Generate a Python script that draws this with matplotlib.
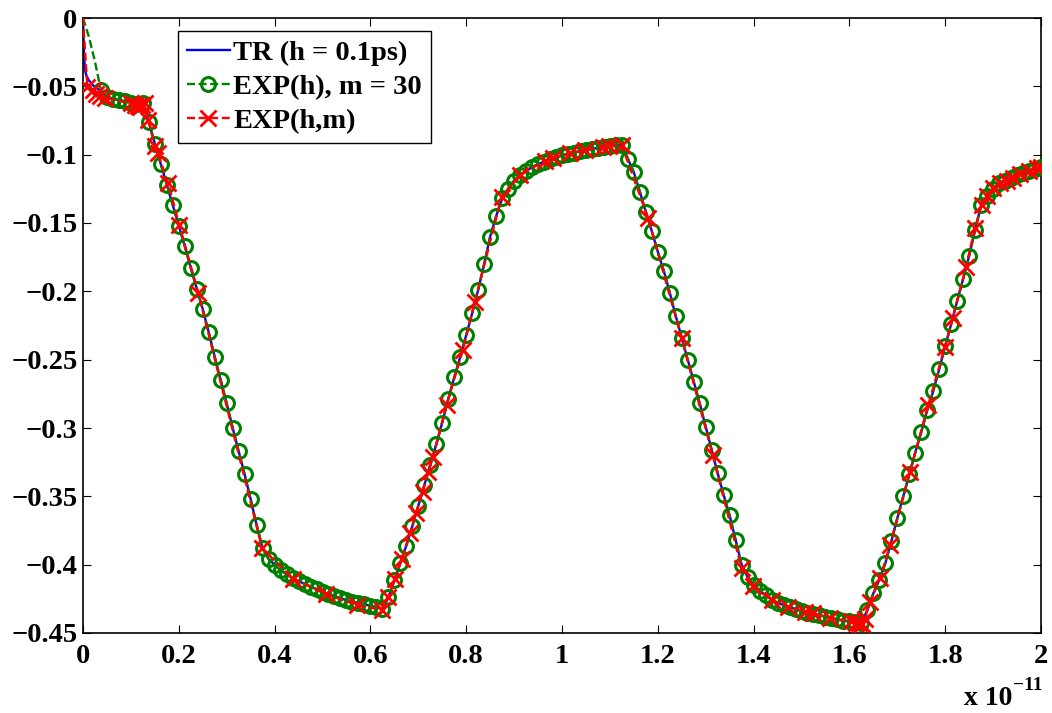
import numpy as np
import matplotlib
matplotlib.use("Agg")
import matplotlib.pyplot as plt
from matplotlib.lines import Line2D

# ---------------- data (time in units of 1e-11 s) ----------------
H_EXP = 0.0125  # marker/grid step of EXP(h) curve (x 1e-11 s)
y_exp = [0.0, -0.014, -0.032, -0.053, -0.0575, -0.059, -0.060, -0.061, -0.062, -0.063,
         -0.062, -0.076, -0.092, -0.107, -0.122, -0.137, -0.152, -0.167, -0.183, -0.198,
         -0.213, -0.230, -0.248, -0.265, -0.282, -0.300, -0.317, -0.334, -0.352, -0.371,
         -0.388, -0.396, -0.400, -0.404, -0.407, -0.410, -0.412, -0.414, -0.416, -0.418,
         -0.420, -0.4215, -0.423, -0.4245, -0.426, -0.427, -0.428, -0.429, -0.430, -0.431,
         -0.4325, -0.424, -0.4115, -0.399, -0.386, -0.372, -0.357, -0.342, -0.327, -0.312,
         -0.296, -0.279, -0.263, -0.248, -0.232, -0.216, -0.199, -0.180, -0.160, -0.145,
         -0.132, -0.125, -0.119, -0.115, -0.112, -0.109, -0.107, -0.105, -0.1035, -0.102,
         -0.1005, -0.0995, -0.0985, -0.0975, -0.0965, -0.0958, -0.095, -0.0943, -0.0937, -0.0932,
         -0.093, -0.103, -0.113, -0.127, -0.142, -0.156, -0.171, -0.185, -0.201, -0.218,
         -0.234, -0.250, -0.266, -0.282, -0.299, -0.316, -0.333, -0.349, -0.364, -0.382,
         -0.400, -0.409, -0.415, -0.419, -0.4225, -0.4255, -0.428, -0.4295, -0.431, -0.4325,
         -0.434, -0.435, -0.436, -0.437, -0.438, -0.439, -0.440, -0.441, -0.4415, -0.442,
         -0.443, -0.433, -0.421, -0.411, -0.399, -0.383, -0.366, -0.350, -0.334, -0.318,
         -0.303, -0.287, -0.273, -0.257, -0.240, -0.224, -0.207, -0.191, -0.174, -0.155,
         -0.137, -0.130, -0.125, -0.121, -0.119, -0.117, -0.115, -0.1135, -0.112, -0.1105,
         -0.109]
t_exp = np.arange(len(y_exp)) * H_EXP

# TR (h = 0.1ps): its own fast initial transient, then follows the same waveform
t_tr_start = [0.0, 0.002, 0.004, 0.007, 0.011, 0.02, 0.035, 0.05]
y_tr_start = [0.0, -0.025, -0.038, -0.042, -0.045, -0.049, -0.053, -0.0575]

# EXP(h,m): adaptive step points
t_red = [0.0, 0.009, 0.020, 0.028, 0.036, 0.046,
         0.100, 0.108, 0.114, 0.119, 0.124, 0.129,
         0.1365, 0.150, 0.156, 0.178, 0.201, 0.241,
         0.374, 0.439, 0.507, 0.571, 0.6235,
         0.6375, 0.651, 0.665, 0.683, 0.695, 0.709, 0.721, 0.731,
         0.759, 0.793, 0.818, 0.874, 0.912, 0.964, 0.981, 1.017, 1.048, 1.085, 1.098, 1.1246,
         1.180, 1.2498, 1.3146, 1.375, 1.3994, 1.4377, 1.4725, 1.507, 1.525, 1.5595,
         1.603, 1.614, 1.620, 1.626, 1.632,
         1.643, 1.664, 1.685, 1.7265, 1.7647, 1.7996, 1.8156, 1.8434, 1.862, 1.876,
         1.888, 1.900, 1.914, 1.928, 1.942, 1.956, 1.975, 1.991, 1.999]
y_red = [0.0, -0.0505, -0.053, -0.0555, -0.057, -0.0585,
         -0.0625, -0.064, -0.0645, -0.065, -0.0635, -0.0625,
         -0.0746, -0.094, -0.099, -0.121, -0.1515, -0.2015,
         -0.388, -0.4105, -0.4215, -0.4295, -0.433,
         -0.424, -0.4105, -0.396, -0.377, -0.3624, -0.3466, -0.332, -0.321,
         -0.283, -0.243, -0.2076, -0.1307, -0.115, -0.1045, -0.1025, -0.099, -0.0966, -0.0945, -0.094, -0.0929,
         -0.1466, -0.2344, -0.3197, -0.4027, -0.4155, -0.426, -0.4307, -0.4344, -0.4356, -0.4392,
         -0.4415, -0.4425, -0.443, -0.4435, -0.440,
         -0.427, -0.410, -0.3856, -0.332, -0.283, -0.2405, -0.2197, -0.182, -0.1539, -0.137,
         -0.130, -0.1246, -0.121, -0.119, -0.1173, -0.114, -0.112, -0.110, -0.109]

labels = ["TR (h = 0.1ps)", "EXP(h), m = 30", "EXP(h,m)"]
xticks = [0, 0.2, 0.4, 0.6, 0.8, 1.0, 1.2, 1.4, 1.6, 1.8, 2.0]
xticklabels = ["0", "0.2", "0.4", "0.6", "0.8", "1", "1.2", "1.4", "1.6", "1.8", "2"]
yticks = [0, -0.05, -0.1, -0.15, -0.2, -0.25, -0.3, -0.35, -0.4, -0.45]
yticklabels = ["0", "\u22120.05", "\u22120.1", "\u22120.15", "\u22120.2", "\u22120.25",
               "\u22120.3", "\u22120.35", "\u22120.4", "\u22120.45"]

# ---------------- styling ----------------
FONT = ["Liberation Serif", "DejaVu Serif"]
BLUE, GREEN, RED = (0, 0, 1), (0, 0.5, 0), (1, 0, 0)
DASH = (0, (3.4, 1.5))
LW = 1.7

fig = plt.figure(figsize=(10.52, 7.13), dpi=100)
ax = fig.add_axes([83 / 1052, 1 - 633 / 713, (1041 - 83) / 1052, (633 - 18) / 713])

t_tr = list(t_tr_start) + list(t_exp[5:])
y_tr = list(y_tr_start) + list(y_exp[5:])

ax.plot(t_tr, y_tr, color=BLUE, lw=LW, zorder=2)
ax.plot(t_exp, y_exp, color=GREEN, lw=LW, ls=DASH, zorder=3)
ax.plot(t_exp[3:], y_exp[3:], ls="none", marker="o", ms=10, mfc="none",
        mec=GREEN, mew=2.2, zorder=3)
ax.plot(t_red, y_red, color=RED, lw=LW, ls=DASH, zorder=4)
ax.plot(t_red[1:], y_red[1:], ls="none", marker="x", ms=12, mec=RED, mew=2.0, zorder=4)

ax.set_xlim(0, 2)
ax.set_ylim(-0.45, 0)
ax.set_xticks(xticks)
ax.set_xticklabels(xticklabels)
ax.set_yticks(yticks)
ax.set_yticklabels(yticklabels)
for lab in ax.get_xticklabels() + ax.get_yticklabels():
    lab.set_family(FONT)
    lab.set_fontweight("bold")
    lab.set_fontsize(20.5)
ax.tick_params(direction="in", length=6, width=0.8, top=True, right=True,
               colors="black")
ax.tick_params(axis="x", pad=8)
ax.tick_params(axis="y", pad=4)
for s in ax.spines.values():
    s.set_linewidth(1.2)

handles = [
    Line2D([], [], color=BLUE, lw=LW),
    Line2D([], [], color=GREEN, lw=LW, ls=DASH, marker="o", ms=10, mfc="none", mec=GREEN, mew=2.2),
    Line2D([], [], color=RED, lw=LW, ls=DASH, marker="x", ms=12, mec=RED, mew=2.0),
]
leg = ax.legend(handles, labels, loc="upper left", bbox_to_anchor=(0.099, 0.979),
                borderaxespad=0, fancybox=False, framealpha=1, edgecolor="black",
                prop={"family": FONT, "weight": "bold", "size": 20.5},
                handlelength=1.5, handletextpad=0.12, labelspacing=0.28,
                borderpad=0.32, numpoints=1)
leg.get_frame().set_linewidth(1.0)

fig.text(1012 / 1052, 1 - 705 / 713, "x 10", family=FONT, weight="bold",
         fontsize=20, ha="right", va="baseline")
fig.text(1013 / 1052, 1 - 690 / 713, "\u221211", family=FONT, weight="bold",
         fontsize=14, ha="left", va="baseline")

fig.savefig("out.png", dpi=100)
